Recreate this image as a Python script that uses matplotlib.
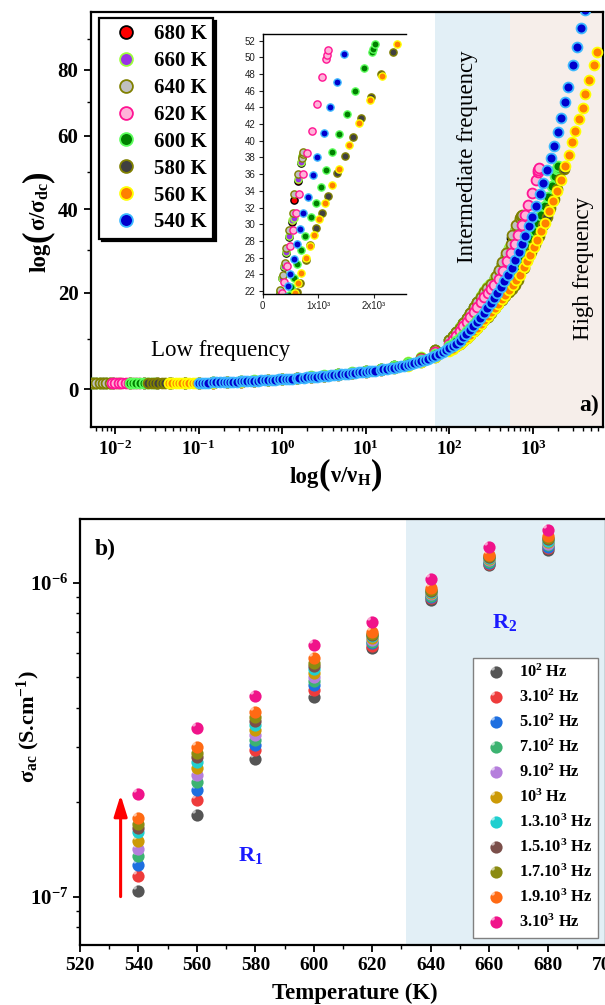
import numpy as np
import matplotlib
matplotlib.use('Agg')
import matplotlib.pyplot as plt
from matplotlib.path import Path
from matplotlib.ticker import (FixedLocator, LogLocator, FuncFormatter,
                               NullFormatter, MultipleLocator)

plt.rcParams['font.family'] = ['Liberation Serif', 'DejaVu Serif']
plt.rcParams['font.weight'] = 'bold'
plt.rcParams['mathtext.fontset'] = 'custom'
plt.rcParams['mathtext.rm'] = 'Liberation Serif'
plt.rcParams['mathtext.bf'] = 'Liberation Serif:bold'
plt.rcParams['mathtext.it'] = 'Liberation Serif:italic'
plt.rcParams['mathtext.default'] = 'bf'

# ---------------- panel a : scaled conductivity vs reduced frequency ----------------
nu_680 = [0.0050, 0.0055, 0.0060, 0.0066, 0.0072, 0.0079, 0.0086, 0.0095,
          0.015, 0.022, 0.032, 0.046, 0.068, 0.10, 0.15, 0.22, 0.32, 0.46, 0.68, 1.0, 1.5, 2.2, 3.2, 4.6, 6.8,
          10, 15, 22, 32, 46, 68, 100,
          110, 121, 133, 147, 162, 178, 196, 215, 237, 261, 285,
          305, 350, 390, 420, 470, 521, 568, 630, 690, 712]
y_680 = [1.20, 1.20, 1.20, 1.20, 1.21, 1.21, 1.21, 1.21,
         1.22, 1.22, 1.23, 1.24, 1.26, 1.28, 1.33, 1.41, 1.52, 1.65, 1.80, 1.97, 2.18, 2.41, 2.65, 2.92, 3.22,
         3.58, 4.02, 4.57, 5.27, 6.27, 7.80, 9.80,
         10.6, 11.5, 12.4, 13.4, 14.5, 15.6, 16.8, 18.0, 19.2, 20.3, 21.2,
         21.9, 23.5, 24.9, 26.6, 28.5, 30.3, 32.9, 35.2, 37.3, 38.0]

nu_660 = [0.0051, 0.0056, 0.0062, 0.0068, 0.0075, 0.0082, 0.0090,
          0.015, 0.022, 0.032, 0.046, 0.068, 0.10, 0.15, 0.22, 0.32, 0.46, 0.68, 1.0, 1.5, 2.2, 3.2, 4.6, 6.8,
          10, 15, 22, 32, 46, 68, 100,
          110, 121, 133, 147, 162, 178, 196, 215, 237, 261, 285,
          305, 350, 390, 420, 470, 521, 568, 630, 690, 712]
y_660 = [1.21, 1.21, 1.21, 1.21, 1.22, 1.22, 1.22,
         1.22, 1.23, 1.24, 1.25, 1.27, 1.29, 1.34, 1.42, 1.53, 1.66, 1.81, 1.98, 2.19, 2.42, 2.66, 2.93, 3.24,
         3.60, 4.05, 4.60, 5.30, 6.30, 7.85, 9.85,
         10.7, 11.6, 12.5, 13.5, 14.6, 15.7, 16.9, 18.1, 19.3, 20.4, 21.3,
         22.0, 23.6, 25.0, 26.7, 28.6, 30.5, 30.8, 35.4, 37.5, 38.2]

nu_640 = [0.0055, 0.0060, 0.0066, 0.0072, 0.0079, 0.0087, 0.0095, 0.0105, 0.0115,
          0.015, 0.022, 0.032, 0.046, 0.068, 0.10, 0.15, 0.22, 0.32, 0.46, 0.68, 1.0, 1.5, 2.2, 3.2, 4.6, 6.8,
          10, 15, 22, 32, 46, 68, 100,
          110, 121, 133, 147, 162, 178, 196, 215, 237, 261, 285,
          311, 359, 395, 424, 478, 538, 568, 634, 700, 718, 729]
y_640 = [1.20, 1.20, 1.20, 1.21, 1.21, 1.21, 1.21, 1.21, 1.22,
         1.22, 1.22, 1.23, 1.24, 1.26, 1.28, 1.33, 1.41, 1.52, 1.65, 1.80, 1.97, 2.18, 2.41, 2.65, 2.92, 3.22,
         3.57, 4.00, 4.55, 5.25, 6.25, 7.80, 9.80,
         10.6, 11.5, 12.4, 13.4, 14.5, 15.6, 16.8, 18.0, 19.2, 20.3, 21.2,
         22.1, 23.9, 25.3, 27.1, 29.3, 31.3, 33.6, 36.0, 37.9, 38.4, 38.7]

nu_620 = [0.0092, 0.0101, 0.0111, 0.0122, 0.0134, 0.0148, 0.0162, 0.0178, 0.0196,
          0.022, 0.032, 0.046, 0.068, 0.10, 0.15, 0.22, 0.32, 0.46, 0.68, 1.0, 1.5, 2.2, 3.2, 4.6, 6.8,
          10, 15, 22, 32, 46, 68, 100,
          110, 121, 133, 147, 162, 178, 196, 215, 237, 261, 287, 313, 342,
          388, 442, 490, 544, 603, 652, 729, 801, 879, 969, 1071, 1136, 1149, 1166]
y_620 = [1.20, 1.20, 1.21, 1.21, 1.21, 1.21, 1.22, 1.22, 1.22,
         1.22, 1.23, 1.24, 1.26, 1.28, 1.32, 1.40, 1.50, 1.63, 1.78, 1.94, 2.14, 2.36, 2.59, 2.84, 3.12,
         3.45, 3.85, 4.35, 5.00, 5.90, 7.30, 9.10,
         9.9, 10.8, 11.7, 12.7, 13.7, 14.7, 15.8, 16.9, 18.0, 19.0, 20.0, 20.9, 21.8,
         23.1, 25.0, 27.4, 29.3, 31.4, 33.6, 36.0, 38.5, 41.2, 44.4, 47.6, 49.8, 50.3, 50.9]

nu_600 = [0.015, 0.0165, 0.018, 0.020, 0.022, 0.024, 0.026, 0.029, 0.032,
          0.046, 0.068, 0.10, 0.15, 0.22, 0.32, 0.46, 0.68, 1.0, 1.5, 2.2, 3.2, 4.6, 6.8,
          10, 15, 22, 32, 46, 68, 100,
          110, 121, 133, 147, 162, 178, 196, 215, 237, 261, 287, 316, 348, 383, 421, 464, 510,
          557, 617, 695, 760, 868, 952, 1042, 1138, 1251, 1377, 1509, 1665, 1826, 1960, 1980, 2010]
y_600 = [1.22, 1.22, 1.22, 1.23, 1.23, 1.23, 1.23, 1.24, 1.24,
         1.26, 1.29, 1.33, 1.39, 1.48, 1.60, 1.74, 1.90, 2.07, 2.28, 2.51, 2.75, 3.01, 3.30,
         3.62, 4.00, 4.48, 5.08, 5.85, 7.00, 8.60,
         9.1, 9.7, 10.3, 11.0, 11.7, 12.4, 13.2, 14.0, 14.8, 15.7, 16.6, 17.5, 18.5, 19.5, 20.5, 21.5, 22.5,
         23.5, 25.2, 26.9, 28.6, 30.9, 32.6, 34.5, 36.5, 38.6, 40.8, 43.2, 46.0, 48.7, 50.6, 51.0, 51.6]

nu_580 = [0.025, 0.0275, 0.030, 0.033, 0.036, 0.040, 0.044, 0.048,
          0.068, 0.10, 0.15, 0.22, 0.32, 0.46, 0.68, 1.0, 1.5, 2.2, 3.2, 4.6, 6.8,
          10, 15, 22, 32, 46, 68, 100,
          110, 121, 133, 147, 162, 178, 196, 215, 237, 261, 287, 316, 348, 383, 421, 464, 510, 561, 617,
          670, 777, 849, 957, 1065, 1178, 1329, 1472, 1616, 1770, 1939, 2130, 2334]
y_580 = [1.22, 1.22, 1.22, 1.23, 1.23, 1.24, 1.24, 1.25,
         1.26, 1.29, 1.34, 1.42, 1.53, 1.66, 1.81, 1.97, 2.17, 2.39, 2.62, 2.87, 3.13,
         3.43, 3.78, 4.20, 4.72, 5.40, 6.45, 7.95,
         8.2, 8.6, 9.1, 9.7, 10.3, 11.0, 11.7, 12.4, 13.2, 14.0, 14.8, 15.7, 16.6, 17.5, 18.4, 19.3, 20.2, 21.0, 21.9,
         22.9, 25.7, 27.5, 29.5, 31.4, 33.4, 36.1, 38.2, 40.4, 42.7, 45.2, 48.0, 50.6]

nu_560 = [0.044, 0.048, 0.053, 0.058, 0.064, 0.070, 0.077, 0.085, 0.093,
          0.10, 0.15, 0.22, 0.32, 0.46, 0.68, 1.0, 1.5, 2.2, 3.2, 4.6, 6.8,
          10, 15, 22, 32, 46, 68, 100,
          110, 121, 133, 147, 162, 178, 196, 215, 237, 261, 287, 316, 348, 383, 421, 464, 520,
          581, 629, 695, 772, 844, 922, 1018, 1120, 1251, 1377, 1551, 1731, 1928, 2138, 2419,
          2665, 2925, 3210, 3580, 3930, 4240, 4730, 5330, 5870]
y_560 = [1.22, 1.22, 1.23, 1.23, 1.24, 1.24, 1.25, 1.25, 1.26,
         1.27, 1.32, 1.40, 1.51, 1.64, 1.79, 1.95, 2.15, 2.37, 2.60, 2.85, 3.10,
         3.40, 3.75, 4.15, 4.65, 5.30, 6.30, 7.70,
         8.1, 8.6, 9.1, 9.7, 10.3, 11.0, 11.7, 12.4, 13.2, 14.0, 14.9, 15.8, 16.7, 17.6, 18.6, 19.6, 20.6,
         21.7, 22.9, 24.2, 25.9, 27.4, 28.7, 30.6, 32.5, 34.7, 36.6, 39.5, 42.1, 44.9, 47.8, 51.6,
         54.5, 58.1, 61.5, 64.8, 68.3, 72.4, 76.9, 81.5, 85.8]

nu_540 = [0.10, 0.11, 0.12, 0.13, 0.15, 0.16, 0.18, 0.20, 0.22, 0.24, 0.26, 0.29,
          0.32, 0.35, 0.38, 0.42, 0.46, 0.51, 0.56, 0.62, 0.68, 0.75, 0.83, 0.91,
          1.0, 1.1, 1.2, 1.3, 1.5, 1.6, 1.8, 2.0, 2.2, 2.4, 2.6, 2.9,
          3.2, 3.5, 3.8, 4.2, 4.6, 5.1, 5.6, 6.2, 6.8, 7.5, 8.3, 9.1,
          10, 11, 12, 13, 15, 16, 18, 20, 22, 24, 26, 29,
          32, 35, 38, 42, 46, 51, 56, 62, 68, 75, 83, 91,
          100, 109, 120, 132, 145, 159, 175, 193, 212, 233, 256, 282, 310, 340, 373, 410,
          449, 497, 557, 617, 671, 731, 808, 898, 976, 1096, 1210, 1329, 1467,
          1620, 1790, 1980, 2180, 2410, 2650, 2980, 3380, 3790, 4240]
y_540 = [1.30, 1.31, 1.32, 1.33, 1.35, 1.37, 1.39, 1.41, 1.43, 1.45, 1.48, 1.51,
         1.54, 1.57, 1.60, 1.63, 1.67, 1.70, 1.74, 1.78, 1.82, 1.86, 1.90, 1.94,
         1.98, 2.02, 2.07, 2.11, 2.18, 2.22, 2.28, 2.34, 2.40, 2.45, 2.50, 2.57,
         2.63, 2.69, 2.75, 2.82, 2.88, 2.94, 3.00, 3.07, 3.15, 3.22, 3.30, 3.37,
         3.45, 3.52, 3.60, 3.68, 3.80, 3.90, 4.00, 4.12, 4.25, 4.37, 4.50, 4.65,
         4.80, 4.95, 5.10, 5.30, 5.50, 5.75, 6.00, 6.30, 6.60, 6.95, 7.30, 7.75,
         8.20, 8.60, 9.10, 9.70, 10.4, 11.2, 12.0, 12.8, 13.7, 14.6, 15.6, 16.6, 17.7, 18.8, 20.0, 21.3,
         22.6, 24.0, 25.8, 27.6, 29.4, 31.4, 33.3, 35.9, 38.1, 40.9, 44.0, 47.0, 50.4,
         53.8, 57.2, 61.0, 65.2, 70.0, 74.5, 81.5, 87.6, 94.0, 100.0]

temp_labels_a = ['680 K', '660 K', '640 K', '620 K', '600 K', '580 K', '560 K', '540 K']
face_a = ['#ff0000', '#9a32e6', '#c0c0c0', '#ffb3d9', '#008000', '#404040', '#ff8000', '#0000cd']
edge_a = ['#000000', '#9cff3c', '#808000', '#ff1493', '#5cff5c', '#808000', '#ffff00', '#3cb8ff']

# ---------------- panel b : sigma_ac vs temperature ----------------
temps_b = [540, 560, 580, 600, 620, 640, 660, 680]
s_1e2 = [1.045e-7, 1.82e-7, 2.74e-7, 4.32e-7, 6.19e-7, 8.83e-7, 1.14e-6, 1.27e-6]
s_3e2 = [1.167e-7, 2.04e-7, 2.94e-7, 4.55e-7, 6.32e-7, 8.95e-7, 1.15e-6, 1.29e-6]
s_5e2 = [1.262e-7, 2.19e-7, 3.05e-7, 4.72e-7, 6.42e-7, 9.04e-7, 1.16e-6, 1.305e-6]
s_7e2 = [1.349e-7, 2.32e-7, 3.16e-7, 4.86e-7, 6.50e-7, 9.12e-7, 1.17e-6, 1.32e-6]
s_9e2 = [1.423e-7, 2.44e-7, 3.27e-7, 5.00e-7, 6.58e-7, 9.20e-7, 1.18e-6, 1.335e-6]
s_1e3 = [1.509e-7, 2.57e-7, 3.40e-7, 5.15e-7, 6.67e-7, 9.28e-7, 1.19e-6, 1.35e-6]
s_13e3 = [1.611e-7, 2.69e-7, 3.53e-7, 5.30e-7, 6.76e-7, 9.36e-7, 1.20e-6, 1.365e-6]
s_15e3 = [1.652e-7, 2.79e-7, 3.63e-7, 5.42e-7, 6.83e-7, 9.43e-7, 1.21e-6, 1.38e-6]
s_17e3 = [1.706e-7, 2.87e-7, 3.74e-7, 5.55e-7, 6.90e-7, 9.50e-7, 1.22e-6, 1.395e-6]
s_19e3 = [1.778e-7, 3.01e-7, 3.89e-7, 5.75e-7, 7.00e-7, 9.62e-7, 1.23e-6, 1.41e-6]
s_3e3 = [2.12e-7, 3.44e-7, 4.36e-7, 6.34e-7, 7.53e-7, 1.03e-6, 1.30e-6, 1.48e-6]

freq_labels = ['10$^{2}$ Hz', '3.10$^{2}$ Hz', '5.10$^{2}$ Hz', '7.10$^{2}$ Hz',
               '9.10$^{2}$ Hz', '10$^{3}$ Hz', '1.3.10$^{3}$ Hz', '1.5.10$^{3}$ Hz',
               '1.7.10$^{3}$ Hz', '1.9.10$^{3}$ Hz', '3.10$^{3}$ Hz']
colors_b = ['#555555', '#ee3b3b', '#1e6fe0', '#3cb371', '#b57edc', '#cc9a06',
            '#20cfcf', '#7b4f4a', '#8b8b12', '#ff6a13', '#f0138a']


def fwd(y):
    return np.log10(np.clip(np.asarray(y, dtype=float) + 120.0, 1e-6, None))


def inv(v):
    return 10.0 ** np.asarray(v, dtype=float) - 120.0


W, H = 605, 1005
fig = plt.figure(figsize=(W / 100, H / 100), dpi=100)


def chain_label(pieces, x_px, y_px, rotation=0):
    """Place text pieces one after another, centred on (x_px, y_px) along the text direction.
    The cross position is the baseline (y for horizontal, x for vertical text)."""
    renderer = fig.canvas.get_renderer()
    texts = [fig.text(0, 0, s, size=sz, rotation=rotation, rotation_mode='anchor',
                      ha='left', va='baseline') for s, sz in pieces]
    adv = []
    for t in texts:
        bb = t.get_window_extent(renderer)
        adv.append(bb.width if rotation == 0 else bb.height)
    pos = (x_px if rotation == 0 else (H - y_px)) - sum(adv) / 2
    for t, a in zip(texts, adv):
        if rotation == 0:
            t.set_position((pos / W, 1 - y_px / H))
        else:
            t.set_position((x_px / W, pos / H))
        pos += a


# ---------------- panel a ----------------
ax = fig.add_axes([91 / W, 1 - 427 / H, 512 / W, 415 / H])
ax.set_xscale('log')
ax.set_yscale('function', functions=(fwd, inv))
ax.axvspan(68, 525, color='#e2eff6', lw=0, zorder=0)
ax.axvspan(525, 7000, color='#f6eeea', lw=0, zorder=0)

curves = [(nu_680, y_680), (nu_660, y_660), (nu_640, y_640), (nu_620, y_620),
          (nu_600, y_600), (nu_580, y_580), (nu_560, y_560), (nu_540, y_540)]
lines_a = []
for (xv, yv), lab, fc, ec in zip(curves, temp_labels_a, face_a, edge_a):
    ln, = ax.plot(xv, yv, 'o', ls='none', ms=7.1, mfc=fc, mec=ec, mew=1.3,
                  label=lab, zorder=3)
    lines_a.append(ln)

ax.set_xlim(0.00516, 6870)
ax.set_ylim(-7, 99.4)
ax.yaxis.set_major_locator(FixedLocator([0, 20, 40, 60, 80]))
ax.yaxis.set_minor_locator(FixedLocator([10, 30, 50, 70, 90]))
ax.yaxis.set_major_formatter(FuncFormatter(lambda v, p: '%d' % round(v)))
ax.yaxis.set_minor_formatter(NullFormatter())
ax.xaxis.set_major_locator(FixedLocator([1e-2, 1e-1, 1e0, 1e1, 1e2, 1e3]))
ax.xaxis.set_minor_locator(LogLocator(base=10, subs=np.arange(2, 10), numticks=20))
ax.xaxis.set_major_formatter(FuncFormatter(
    lambda v, p: r'$10^{%d}$' % int(round(np.log10(v)))))
ax.xaxis.set_minor_formatter(NullFormatter())
ax.tick_params(axis='both', which='major', direction='out', length=5, width=1.3)
ax.tick_params(axis='both', which='minor', direction='out', length=3, width=1.0)
ax.tick_params(axis='y', labelsize=15, pad=4)
ax.tick_params(axis='x', labelsize=13.5, pad=4)
for sp in ax.spines.values():
    sp.set_linewidth(1.6)

leg = ax.legend(handles=lines_a, loc='upper left', bbox_to_anchor=(0.0156, 0.9855),
                borderaxespad=0, prop={'size': 15, 'weight': 'bold'}, markerscale=1.3,
                handlelength=2.0, handletextpad=0.35, borderpad=0.3, labelspacing=0.33,
                fancybox=False, edgecolor='black', framealpha=1,
                shadow={'facecolor': 'black', 'edgecolor': 'black', 'alpha': 1})
leg.get_frame().set_linewidth(1.6)

ax.text(0.254, 0.1855, 'Low frequency', transform=ax.transAxes, ha='center',
        va='center', size=16.5, weight='normal')
ax.text(0.736, 0.652, 'Intermediate frequency', transform=ax.transAxes, ha='center',
        va='center', size=16.5, weight='normal', rotation=90)
ax.text(0.961, 0.382, 'High frequency', transform=ax.transAxes, ha='center',
        va='center', size=16.5, weight='normal', rotation=90)
ax.text(0.9727, 0.053, 'a)', transform=ax.transAxes, ha='center', va='center', size=17)

chain_label([('log', 16.5), ('(', 25), (r'$ν/ν_{H}$', 16.5), (')', 25)], 336, 483)
chain_label([('log', 16.5), ('(', 25), (r'$σ/σ_{dc}$', 16.5), (')', 25)], 46, 221, rotation=90)

# ---------------- inset ----------------
axin = fig.add_axes([262.7 / W, 1 - 294 / H, 143 / W, 260 / H])
for (xv, yv), fc, ec in zip(curves, face_a, edge_a):
    axin.plot(xv, yv, 'o', ls='none', ms=5.2, mfc=fc, mec=ec, mew=1.0)
axin.set_xlim(0, 2567)
axin.set_ylim(21.64, 52.8)
axin.yaxis.set_major_locator(FixedLocator(list(range(22, 53, 2))))
axin.xaxis.set_major_locator(FixedLocator([0, 1000, 2000]))
axin.xaxis.set_major_formatter(FuncFormatter(
    lambda v, p: '0' if v == 0 else '%dx10³' % round(v / 1000)))
axin.spines['right'].set_visible(False)
for sp in ['left', 'bottom', 'top']:
    axin.spines[sp].set_linewidth(1.0)
axin.tick_params(direction='out', length=3, width=0.8, pad=2, labelsize=7, colors='#222222')
for lab in axin.get_xticklabels() + axin.get_yticklabels():
    lab.set_fontfamily('Liberation Sans')
    lab.set_fontweight('normal')

# ---------------- panel b ----------------
axb = fig.add_axes([80 / W, 1 - 945 / H, 526 / W, 426 / H])
axb.set_yscale('log')
axb.axvspan(631.6, 710, color='#e2eff6', lw=0, zorder=0)

series_b = [s_1e2, s_3e2, s_5e2, s_7e2, s_9e2, s_1e3, s_13e3, s_15e3, s_17e3, s_19e3, s_3e3]
hl_marker = Path.circle(center=(-0.27, 0.29), radius=0.15)
handles_b = []
for vals, col in zip(series_b, colors_b):
    base, = axb.plot(temps_b, vals, 'o', ls='none', ms=8.8, mfc=col, mec='none', zorder=3)
    glow, = axb.plot(temps_b, vals, marker=hl_marker, ls='none', ms=8.8, mfc='white',
                     mec='none', alpha=0.6, zorder=3)
    handles_b.append((base, glow))

axb.set_xlim(520, 700)
axb.set_ylim(7.01e-8, 1.60e-6)
axb.xaxis.set_major_locator(MultipleLocator(20))
axb.xaxis.set_minor_locator(MultipleLocator(10))
axb.yaxis.set_major_locator(FixedLocator([1e-7, 1e-6]))
axb.yaxis.set_minor_locator(LogLocator(base=10, subs=np.arange(2, 10), numticks=10))
axb.yaxis.set_major_formatter(FuncFormatter(
    lambda v, p: r'$10^{%d}$' % int(round(np.log10(v)))))
axb.yaxis.set_minor_formatter(NullFormatter())
axb.tick_params(axis='both', which='major', direction='out', length=5, width=1.3)
axb.tick_params(axis='both', which='minor', direction='out', length=3, width=1.0)
axb.tick_params(axis='x', labelsize=14)
axb.tick_params(axis='y', labelsize=15)
for sp in axb.spines.values():
    sp.set_linewidth(1.6)

axb.legend(handles_b, freq_labels, loc='upper left', bbox_to_anchor=(0.747, 0.674),
           borderaxespad=0, prop={'size': 11.8, 'weight': 'bold'}, numpoints=1,
           handlelength=2.05, handletextpad=0.4, borderpad=0.38, labelspacing=0.47,
           fancybox=False, edgecolor='#808080', framealpha=1)

axb.annotate('', xy=(533.9, 2.11e-7), xytext=(533.9, 1.0e-7),
             arrowprops=dict(arrowstyle='-|>,head_length=0.8,head_width=0.25',
                             color='red', lw=2.2, mutation_scale=16, shrinkA=0, shrinkB=0))

axb.text(0.0475, 0.9296, 'b)', transform=axb.transAxes, ha='center', va='center', size=17)
axb.text(0.325, 0.211, r'R$_{1}$', transform=axb.transAxes, ha='center', va='center',
         size=16, color='#1a1aff')
axb.text(0.808, 0.758, r'R$_{2}$', transform=axb.transAxes, ha='center', va='center',
         size=16, color='#1a1aff')

fig.text(355 / W, 1 - 993 / H, 'Temperature (K)', ha='center', va='center', size=16.5)
fig.text(28 / W, 1 - 727 / H, r'σ$_{ac}$ (S.cm$^{-1}$)', ha='center', va='center',
         size=16, rotation=90)

fig.savefig('out.png', dpi=100)
